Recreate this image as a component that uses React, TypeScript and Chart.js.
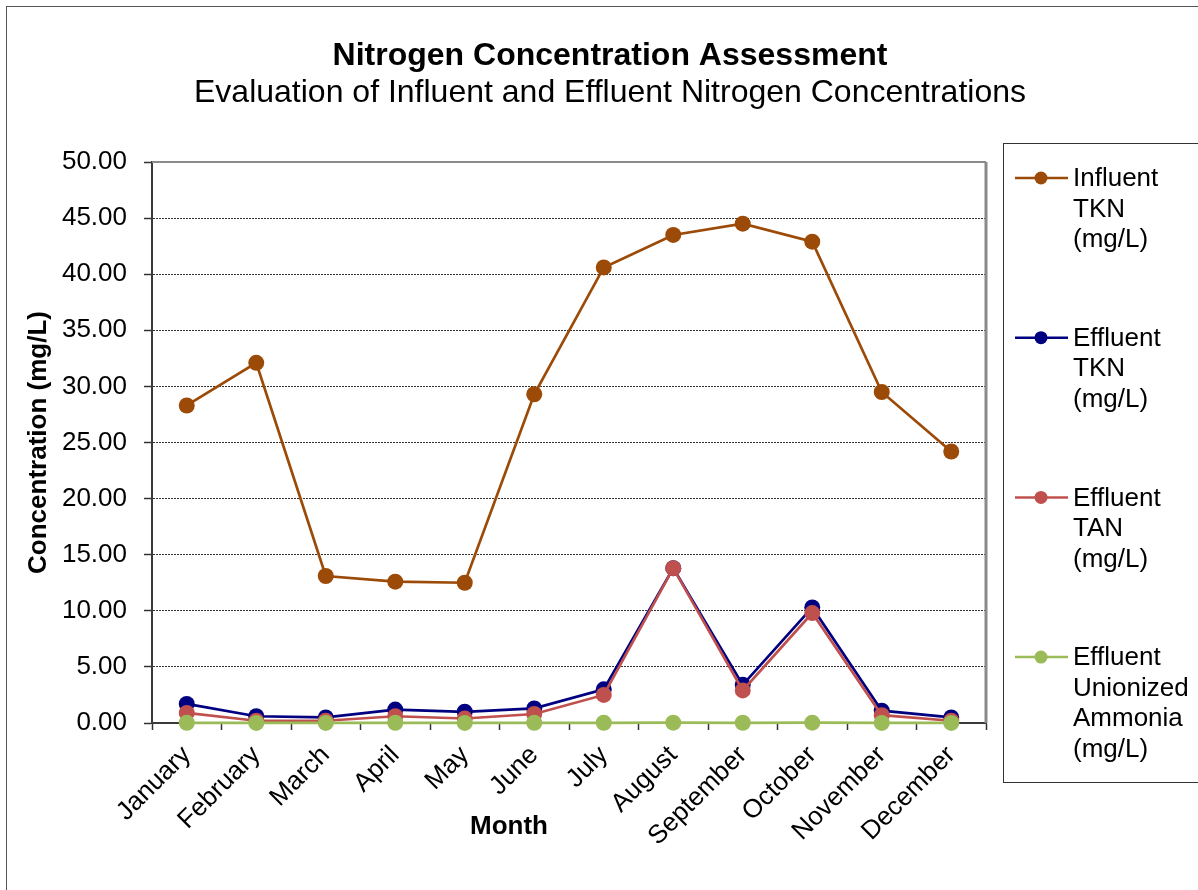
import React, { useEffect, useRef } from "react";
import { Chart, registerables } from "chart.js";

Chart.register(...registerables);

const months = ["January", "February", "March", "April", "May", "June", "July", "August", "September", "October", "November", "December"];
const influentTKN = [28.3, 32.1, 13.1, 12.6, 12.5, 29.3, 40.6, 43.5, 44.5, 42.9, 29.5, 24.2];
const effluentTKN = [1.7, 0.6, 0.5, 1.2, 1.0, 1.3, 3.0, 13.8, 3.4, 10.3, 1.1, 0.5];
const effluentTAN = [0.9, 0.2, 0.2, 0.6, 0.4, 0.8, 2.5, 13.8, 2.9, 9.8, 0.7, 0.2];
const effluentUnionized = [0.02, 0.01, 0.01, 0.02, 0.01, 0.02, 0.02, 0.03, 0.02, 0.03, 0.01, 0.01];
const seriesNames = ["Influent TKN (mg/L)", "Effluent TKN (mg/L)", "Effluent TAN (mg/L)", "Effluent Unionized Ammonia (mg/L)"];
const seriesColors = ["#9C4A07", "#000080", "#C0504D", "#9BBB59"];
const titleText = "Nitrogen Concentration Assessment";
const subtitleText = "Evaluation of Influent and Effluent Nitrogen Concentrations";
const xTitle = "Month";
const yTitle = "Concentration (mg/L)";

const FONT = "'Liberation Sans', Arial, sans-serif";

const decorPlugin = {
  id: "decor",
  beforeDraw(chart: any) {
    const ctx = chart.ctx;
    ctx.save();
    ctx.fillStyle = "#ffffff";
    ctx.fillRect(0, 0, chart.width, chart.height);
    ctx.strokeStyle = "#555555";
    ctx.lineWidth = 1;
    ctx.strokeRect(6.5, 6.5, chart.width + 50, chart.height + 50);
    ctx.restore();
  },
  beforeDatasetsDraw(chart: any) {
    const { ctx, chartArea } = chart;
    ctx.save();
    ctx.strokeStyle = "#8a8a8a";
    ctx.lineWidth = 2;
    ctx.beginPath();
    ctx.moveTo(chartArea.left, chartArea.top);
    ctx.lineTo(chartArea.right, chartArea.top);
    ctx.stroke();
    ctx.lineWidth = 3;
    ctx.beginPath();
    ctx.moveTo(chartArea.right, chartArea.top);
    ctx.lineTo(chartArea.right, chartArea.bottom);
    ctx.stroke();
    ctx.restore();
  },
  afterDraw(chart: any) {
    const { ctx, chartArea } = chart;
    ctx.save();
    ctx.fillStyle = "#000000";
    ctx.textAlign = "center";
    ctx.textBaseline = "alphabetic";
    ctx.font = `bold 32px ${FONT}`;
    ctx.fillText(titleText, 610, 65);
    ctx.font = `32px ${FONT}`;
    ctx.fillText(subtitleText, 610, 102);

    // axis titles
    ctx.font = `bold 26px ${FONT}`;
    ctx.textBaseline = "middle";
    ctx.fillText(xTitle, chartArea.left + 357, 827);
    ctx.save();
    ctx.translate(39, (chartArea.top + chartArea.bottom) / 2);
    ctx.rotate(-Math.PI / 2);
    ctx.fillText(yTitle, 0, 0);
    ctx.restore();

    // legend
    const lx = 1003, ly = 143;
    ctx.strokeStyle = "#333333";
    ctx.lineWidth = 1;
    ctx.strokeRect(lx + 0.5, ly + 0.5, 300, 639);
    ctx.font = `26px ${FONT}`;
    ctx.textAlign = "left";
    chart.data.datasets.forEach((ds: any, i: number) => {
      const y = 178 + i * 159.7;
      ctx.strokeStyle = ds.borderColor;
      ctx.lineWidth = 2.5;
      ctx.beginPath();
      ctx.moveTo(1015, y);
      ctx.lineTo(1068, y);
      ctx.stroke();
      ctx.fillStyle = ds.backgroundColor;
      ctx.beginPath();
      ctx.arc(1041, y, 6.5, 0, Math.PI * 2);
      ctx.fill();
      ctx.fillStyle = "#000000";
      const words = String(ds.label).split(" ");
      words.forEach((w: string, j: number) => {
        ctx.fillText(w, 1073, y + 1 + j * 30.5);
      });
    });
    ctx.restore();
  },
};

export default function App() {
  const ref = useRef<HTMLCanvasElement | null>(null);
  useEffect(() => {
    document.body.style.margin = "0";
    const canvas = ref.current;
    if (!canvas) return;
    const dataSets = [influentTKN, effluentTKN, effluentTAN, effluentUnionized];
    const chart = new Chart(canvas, {
      type: "line",
      data: {
        labels: months,
        datasets: dataSets.map((d, i) => ({
          label: seriesNames[i],
          data: d,
          order: dataSets.length - i,
          borderColor: seriesColors[i],
          backgroundColor: seriesColors[i],
          pointBackgroundColor: seriesColors[i],
          pointBorderColor: seriesColors[i],
          pointRadius: 8,
          pointBorderWidth: 0,
          borderWidth: 2.7,
          tension: 0,
          clip: false as any,
        })),
      },
      options: {
        responsive: false,
        animation: false,
        devicePixelRatio: 1,
        layout: { padding: { top: 162, right: 212, left: 0, bottom: 0 } },
        plugins: {
          legend: { display: false },
          title: { display: false },
          tooltip: { enabled: false },
        },
        scales: {
          x: {
            type: "category",
            offset: true,
            grid: {
              offset: true,
              drawOnChartArea: false,
              drawTicks: true,
              tickLength: 7,
              tickColor: "#333333",
              tickWidth: 1.5,
            },
            border: { display: true, color: "#3a3a3a", width: 2 },
            ticks: {
              color: "#000000",
              font: { family: FONT, size: 26 },
              minRotation: 45,
              maxRotation: 45,
              autoSkip: false,
              padding: 10,
            },
            afterFit(scale: any) {
              scale.height = 167;
            },
          },
          y: {
            min: 0,
            max: 50,
            ticks: {
              stepSize: 5,
              color: "#000000",
              font: { family: FONT, size: 26 },
              padding: 17,
              callback: (v: any) => Number(v).toFixed(2),
            },
            grid: {
              color: (c: any) => (c.tick && (c.tick.value === 0 || c.tick.value === 50) ? "rgba(0,0,0,0)" : "#333333"),
              lineWidth: 1,
              drawTicks: true,
              tickLength: 8,
              tickColor: "#333333",
              tickWidth: 1.5,
            },
            border: { display: true, color: "#3a3a3a", width: 2, dash: [2, 1] },
            afterFit(scale: any) {
              scale.width = 152;
            },
          },
        },
      },
      plugins: [decorPlugin],
    } as any);
    return () => chart.destroy();
  }, []);
  return <canvas ref={ref} width={1198} height={890} style={{ display: "block", width: 1198, height: 890 }} />;
}
